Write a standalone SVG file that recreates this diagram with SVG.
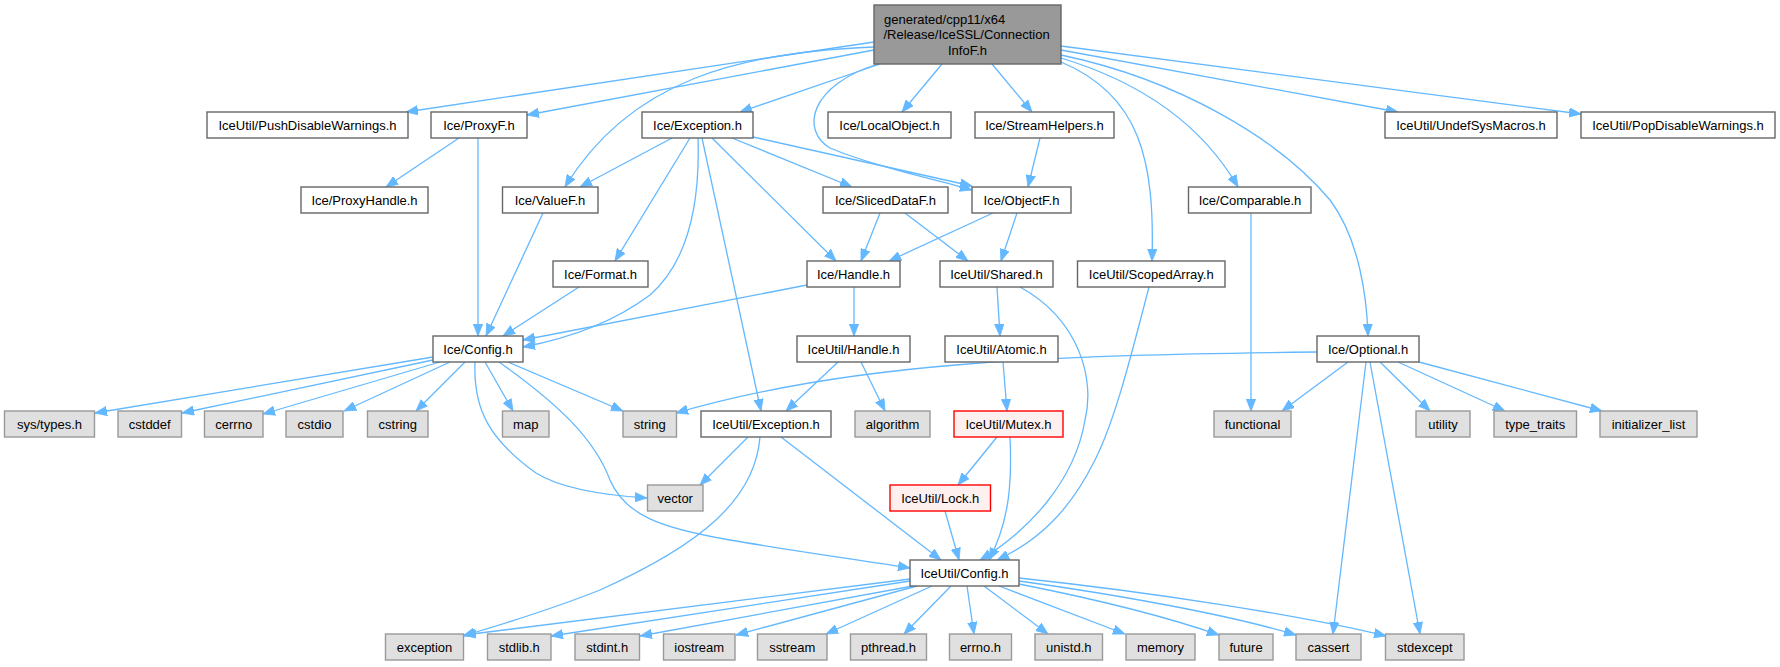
<svg xmlns="http://www.w3.org/2000/svg" width="1780" height="667" viewBox="0 0 1780 667">
<style>
text{font-family:"Liberation Sans",Arial,Helvetica,sans-serif;font-size:13px;fill:#000;text-anchor:middle}
.n rect{fill:#fff;stroke:#666;stroke-width:1.4}
.s rect{fill:#e0e0e0;stroke:#999;stroke-width:1.4}
.r rect{fill:#fff0f0;stroke:#f00;stroke-width:1.4}
.root rect{fill:#999;stroke:#666;stroke-width:1.4}
#edges path{fill:none;stroke:#63b8ff;stroke-width:1.3;marker-end:url(#a)}
</style>
<defs>
<marker id="a" markerUnits="userSpaceOnUse" markerWidth="13" markerHeight="10" refX="12" refY="5" orient="auto">
<path d="M0,0.3 L12,5 L0,9.7 z" fill="#63b8ff" stroke="#63b8ff" stroke-width="0.8"/>
</marker>
</defs>
<rect width="1780" height="667" fill="#fff"/>
<g id="edges">
<path d="M874,42 L406,112"/>
<path d="M874,50 L527,115"/>
<path d="M874,47 C740,52 630,80 565,187"/>
<path d="M880,64 L740,112"/>
<path d="M878,64 C810,85 800,130 830,148 C870,165 930,178 972,190"/>
<path d="M942,64 L902,112"/>
<path d="M992,64 L1032,112"/>
<path d="M1061,62 C1140,95 1155,160 1152,261"/>
<path d="M1061,58 C1150,85 1205,130 1238,187"/>
<path d="M1061,55 C1180,80 1280,140 1330,200 C1360,240 1367,300 1368,336"/>
<path d="M1061,50 L1398,112"/>
<path d="M1061,46 L1581,114"/>
<path d="M672,138 L580,187"/>
<path d="M690,138 L615,261"/>
<path d="M698,138 C700,200 690,260 650,295 C610,325 560,340 523,347"/>
<path d="M702,138 L761,411"/>
<path d="M712,138 L836,261"/>
<path d="M732,138 L852,187"/>
<path d="M753,137 L972,186"/>
<path d="M459,138 L386,187"/>
<path d="M478,138 L478,336"/>
<path d="M543,213 L486,336"/>
<path d="M579,287 L503,336"/>
<path d="M807,285 L523,340"/>
<path d="M854,287 L854,336"/>
<path d="M1040,138 L1028,187"/>
<path d="M880,213 L861,261"/>
<path d="M905,213 L968,261"/>
<path d="M993,213 L889,261"/>
<path d="M1017,213 L1001,261"/>
<path d="M1251,213 L1251,411"/>
<path d="M838,362 L786,411"/>
<path d="M861,362 L885,411"/>
<path d="M997,287 L1000,336"/>
<path d="M1020,287 C1080,320 1095,380 1085,420 C1075,480 1030,530 980,560"/>
<path d="M1149,287 C1130,360 1115,420 1095,460 C1070,510 1040,540 997,560"/>
<path d="M1003,362 L1007,411"/>
<path d="M997,437 L958,485"/>
<path d="M1010,437 C1012,480 1010,520 989,560"/>
<path d="M945,511 L959,560"/>
<path d="M748,437 L700,485"/>
<path d="M760,437 C755,500 700,545 600,590 C550,610 500,625 463,636"/>
<path d="M781,437 L941,560"/>
<path d="M433,357 L95,413"/>
<path d="M433,360 L182,413"/>
<path d="M440,362 L263,414"/>
<path d="M450,362 L344,411"/>
<path d="M465,362 L416,411"/>
<path d="M485,362 L513,411"/>
<path d="M508,362 L623,411"/>
<path d="M475,362 C473,410 490,440 536,473 C560,488 600,495 647,498"/>
<path d="M499,362 C560,405 595,440 610,480 C625,515 660,528 730,540 C800,552 860,560 910,568"/>
<path d="M1317,352 C1050,355 850,362 676,413"/>
<path d="M1348,362 L1282,411"/>
<path d="M1366,362 L1333,634"/>
<path d="M1370,362 L1420,634"/>
<path d="M1380,362 L1430,411"/>
<path d="M1398,362 L1505,411"/>
<path d="M1419,362 L1602,411"/>
<path d="M910,579 L464,635"/>
<path d="M910,581 L551,636"/>
<path d="M913,586 L640,636"/>
<path d="M917,586 L736,635"/>
<path d="M932,586 L826,634"/>
<path d="M951,586 L904,634"/>
<path d="M967,586 L974,634"/>
<path d="M984,586 L1048,634"/>
<path d="M999,586 L1125,634"/>
<path d="M1019,584 C1100,600 1170,618 1219,635"/>
<path d="M1019,581 C1120,595 1230,615 1296,635"/>
<path d="M1019,578 C1150,592 1300,615 1386,636"/>
</g>
<g id="root" class="root"><rect x="874" y="5" width="187" height="59"/>
<text x="884" y="23.5" style="text-anchor:start">generated/cpp11/x64</text>
<text x="883.5" y="39" style="text-anchor:start">/Release/IceSSL/Connection</text>
<text x="967.5" y="55">InfoF.h</text></g>
<g id="n_push" class="n"><rect x="207" y="112" width="201" height="26"/><text x="307.5" y="129.5">IceUtil/PushDisableWarnings.h</text></g>
<g id="n_proxyf" class="n"><rect x="431" y="112" width="96" height="26"/><text x="479" y="129.5">Ice/ProxyF.h</text></g>
<g id="n_exc" class="n"><rect x="642" y="112" width="111" height="26"/><text x="697.5" y="129.5">Ice/Exception.h</text></g>
<g id="n_local" class="n"><rect x="828" y="112" width="123" height="26"/><text x="889.5" y="129.5">Ice/LocalObject.h</text></g>
<g id="n_stream" class="n"><rect x="975" y="112" width="139" height="26"/><text x="1044.5" y="129.5">Ice/StreamHelpers.h</text></g>
<g id="n_undef" class="n"><rect x="1385" y="112" width="172" height="26"/><text x="1471" y="129.5">IceUtil/UndefSysMacros.h</text></g>
<g id="n_pop" class="n"><rect x="1581" y="112" width="194" height="26"/><text x="1678" y="129.5">IceUtil/PopDisableWarnings.h</text></g>
<g id="n_proxyh" class="n"><rect x="301" y="187" width="127" height="26"/><text x="364.5" y="204.5">Ice/ProxyHandle.h</text></g>
<g id="n_valuef" class="n"><rect x="502.5" y="187" width="95.5" height="26"/><text x="550" y="204.5">Ice/ValueF.h</text></g>
<g id="n_sliced" class="n"><rect x="823" y="187" width="125" height="26"/><text x="885.5" y="204.5">Ice/SlicedDataF.h</text></g>
<g id="n_objectf" class="n"><rect x="972" y="187" width="99" height="26"/><text x="1021.5" y="204.5">Ice/ObjectF.h</text></g>
<g id="n_comp" class="n"><rect x="1188.5" y="187" width="122.5" height="26"/><text x="1250" y="204.5">Ice/Comparable.h</text></g>
<g id="n_format" class="n"><rect x="553" y="261" width="95" height="26"/><text x="600.5" y="278.5">Ice/Format.h</text></g>
<g id="n_handle" class="n"><rect x="807" y="261" width="93" height="26"/><text x="853.5" y="278.5">Ice/Handle.h</text></g>
<g id="n_shared" class="n"><rect x="940" y="261" width="113" height="26"/><text x="996.5" y="278.5">IceUtil/Shared.h</text></g>
<g id="n_scoped" class="n"><rect x="1077.5" y="261" width="147.5" height="26"/><text x="1151.25" y="278.5">IceUtil/ScopedArray.h</text></g>
<g id="n_iceconfig" class="n"><rect x="433" y="336" width="90" height="26"/><text x="478" y="353.5">Ice/Config.h</text></g>
<g id="n_uhandle" class="n"><rect x="797" y="336" width="113" height="26"/><text x="853.5" y="353.5">IceUtil/Handle.h</text></g>
<g id="n_atomic" class="n"><rect x="945" y="336" width="113" height="26"/><text x="1001.5" y="353.5">IceUtil/Atomic.h</text></g>
<g id="n_optional" class="n"><rect x="1317" y="336" width="102" height="26"/><text x="1368" y="353.5">Ice/Optional.h</text></g>
<g id="n_systypes" class="s"><rect x="4.5" y="411" width="90" height="26"/><text x="49.5" y="428.5">sys/types.h</text></g>
<g id="n_cstddef" class="s"><rect x="118" y="411" width="63.5" height="26"/><text x="149.75" y="428.5">cstddef</text></g>
<g id="n_cerrno" class="s"><rect x="204.5" y="411" width="58.5" height="26"/><text x="233.75" y="428.5">cerrno</text></g>
<g id="n_cstdio" class="s"><rect x="286" y="411" width="57" height="26"/><text x="314.5" y="428.5">cstdio</text></g>
<g id="n_cstring" class="s"><rect x="367.5" y="411" width="60.5" height="26"/><text x="397.75" y="428.5">cstring</text></g>
<g id="n_map" class="s"><rect x="502.5" y="411" width="46.5" height="26"/><text x="525.75" y="428.5">map</text></g>
<g id="n_string" class="s"><rect x="623" y="411" width="53.5" height="26"/><text x="649.75" y="428.5">string</text></g>
<g id="n_uexception" class="n"><rect x="701" y="411" width="130" height="26"/><text x="766" y="428.5">IceUtil/Exception.h</text></g>
<g id="n_algorithm" class="s"><rect x="855" y="411" width="75" height="26"/><text x="892.5" y="428.5">algorithm</text></g>
<g id="n_mutex" class="r"><rect x="954" y="411" width="109" height="26"/><text x="1008.5" y="428.5">IceUtil/Mutex.h</text></g>
<g id="n_functional" class="s"><rect x="1214" y="411" width="77" height="26"/><text x="1252.5" y="428.5">functional</text></g>
<g id="n_utility" class="s"><rect x="1416" y="411" width="54" height="26"/><text x="1443" y="428.5">utility</text></g>
<g id="n_typetraits" class="s"><rect x="1494" y="411" width="82.5" height="26"/><text x="1535.25" y="428.5">type_traits</text></g>
<g id="n_initlist" class="s"><rect x="1600" y="411" width="97" height="26"/><text x="1648.5" y="428.5">initializer_list</text></g>
<g id="n_vector" class="s"><rect x="647.5" y="485" width="55.5" height="26"/><text x="675.25" y="502.5">vector</text></g>
<g id="n_lock" class="r"><rect x="890" y="485" width="100.5" height="26"/><text x="940.25" y="502.5">IceUtil/Lock.h</text></g>
<g id="n_uconfig" class="n"><rect x="910" y="560" width="109" height="26"/><text x="964.5" y="577.5">IceUtil/Config.h</text></g>
<g id="n_exception" class="s"><rect x="385.5" y="634" width="78" height="26"/><text x="424.5" y="651.5">exception</text></g>
<g id="n_stdlib" class="s"><rect x="487.5" y="634" width="63.5" height="26"/><text x="519.25" y="651.5">stdlib.h</text></g>
<g id="n_stdint" class="s"><rect x="575" y="634" width="64.5" height="26"/><text x="607.25" y="651.5">stdint.h</text></g>
<g id="n_iostream" class="s"><rect x="663.5" y="634" width="71.5" height="26"/><text x="699.25" y="651.5">iostream</text></g>
<g id="n_sstream" class="s"><rect x="757.5" y="634" width="69.5" height="26"/><text x="792.25" y="651.5">sstream</text></g>
<g id="n_pthread" class="s"><rect x="850.5" y="634" width="76" height="26"/><text x="888.5" y="651.5">pthread.h</text></g>
<g id="n_errno" class="s"><rect x="949.5" y="634" width="62" height="26"/><text x="980.5" y="651.5">errno.h</text></g>
<g id="n_unistd" class="s"><rect x="1035" y="634" width="67.5" height="26"/><text x="1068.75" y="651.5">unistd.h</text></g>
<g id="n_memory" class="s"><rect x="1126" y="634" width="69" height="26"/><text x="1160.5" y="651.5">memory</text></g>
<g id="n_future" class="s"><rect x="1219" y="634" width="54" height="26"/><text x="1246" y="651.5">future</text></g>
<g id="n_cassert" class="s"><rect x="1296" y="634" width="65" height="26"/><text x="1328.5" y="651.5">cassert</text></g>
<g id="n_stdexcept" class="s"><rect x="1385.5" y="634" width="78.5" height="26"/><text x="1424.75" y="651.5">stdexcept</text></g>
</svg>
